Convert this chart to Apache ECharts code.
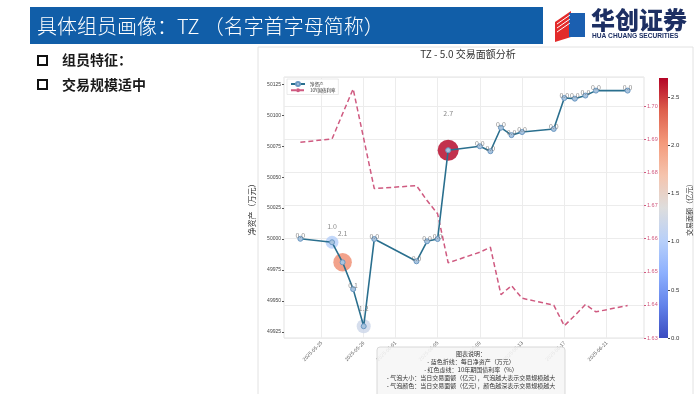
<!DOCTYPE html>
<html><head><meta charset="utf-8">
<script src="https://cdn.jsdelivr.net/npm/echarts@6/dist/echarts.min.js"></script>
<style>html,body{margin:0;padding:0;background:#fff}#c{width:700px;height:394px}</style>
</head><body><div id="c"></div>
<script>
// ---- data ----
const dates = ['2025-05-23','2025-05-26','2025-05-27','2025-05-28','2025-05-29','2025-05-30',
  '2025-06-03','2025-06-04','2025-06-05','2025-06-06','2025-06-09','2025-06-10','2025-06-11',
  '2025-06-12','2025-06-13','2025-06-16','2025-06-17','2025-06-18','2025-06-19','2025-06-20','2025-06-23'];
const netAsset = [50000.2, 49997.4, 49981.2, 49959.5, 49929.5, 50000.0,
  49982.0, 49998.2, 50000.0, 50071.8, 50075.0, 50071.0, 50090.0,
  50084.0, 50086.5, 50089.0, 50114.0, 50113.5, 50116.0, 50120.0, 50120.0];
const yield10Y = [1.6891, 1.6901, 1.6977, 1.7052, 1.6902, 1.6751,
  1.6760, 1.6715, 1.6675, 1.6527, 1.6559, 1.6574, 1.6431,
  1.6458, 1.6420, 1.6399, 1.6337, 1.6368, 1.6401, 1.6379, 1.6398];
const tradeAmount = [0.0, 1.0, 2.1, 0.1, 1.2, 0.0,
  0.0, 0.0, 0.0, 2.7, 0.0, 0.0, 0.0,
  0.0, 0.0, 0.0, 0.0, 0.0, 0.0, 0.0, 0.0];
const xTickDates = ['2025-05-25','2025-05-29','2025-06-01','2025-06-05','2025-06-09','2025-06-13','2025-06-17','2025-06-21'];
const leftTicks = [49925, 49950, 49975, 50000, 50025, 50050, 50075, 50100, 50125];
const seriesNames = ['净资产', '10Y国债利率'];
const noteLines = ['图表说明：',
  '- 蓝色折线：每日净资产（万元）',
  '- 红色虚线：10年期国债利率（%）',
  '- 气泡大小：当日交易面额（亿元），气泡越大表示交易规模越大',
  '- 气泡颜色：当日交易面额（亿元），颜色越深表示交易规模越大'];

// ---- helpers ----
const ts = s => { const [y, m, d] = s.split('-').map(Number); return Date.UTC(y, m - 1, d); };
const pad = n => String(n).padStart(2, '0');
const fmt = v => { const d = new Date(v); return d.getUTCFullYear() + '-' + pad(d.getUTCMonth() + 1) + '-' + pad(d.getUTCDate()); };
const xs = dates.map(ts);
const xTicks = xTickDates.map(ts);
const span = xs[xs.length - 1] - xs[0];
const coolwarm = ['#3b4cc0','#6282ea','#8db0fe','#b8d0f9','#dddddd','#f5c4ad','#f49a7b','#de604d','#b40426'];
const vmax = Math.max(...tradeAmount);
const FONT = '"Noto Sans CJK SC", "Noto Sans", sans-serif';

const bubbleData = xs.map((x, i) => [x, netAsset[i], tradeAmount[i]]);
const labelData = xs.map((x, i) => ({
  value: [x, netAsset[i], tradeAmount[i]],
  label: { offset: [0, -(3 + 12.5 * tradeAmount[i])] }
}));

const chart = echarts.init(document.getElementById('c'));
const graphics = [
  { type: 'rect', shape: { x: 30, y: 7, width: 513, height: 37 }, style: { fill: '#115ea8' } },
  { type: 'text', x: 37, y: 26, style: { text: '具体组员画像：TZ （名字首字母简称）', fill: '#fff', font: '300 20px ' + FONT, verticalAlign: 'middle' } },
  { type: 'polygon', shape: { points: [[555, 22], [571, 11], [571, 37], [555, 42]] }, style: { fill: '#e32b2b' } },
  { type: 'rect', shape: { x: 569, y: 13, width: 16, height: 24 }, style: { fill: '#1b5fb0' } },
  { type: 'polyline', shape: { points: [[557, 24], [570, 15]] }, style: { stroke: '#fff', lineWidth: 1 } },
  { type: 'polyline', shape: { points: [[557, 28], [570, 19]] }, style: { stroke: '#fff', lineWidth: 1 } },
  { type: 'polyline', shape: { points: [[557, 32], [570, 23]] }, style: { stroke: '#fff', lineWidth: 1 } },
  { type: 'text', x: 591, y: 20, style: { text: '华创证券', fill: '#1d2f63', font: '900 24px ' + FONT, verticalAlign: 'middle' } },
  { type: 'text', x: 592, y: 36, style: { text: 'HUA CHUANG SECURITIES', fill: '#1d2f63', font: 'bold 6.6px "Liberation Sans", sans-serif', verticalAlign: 'middle' } },
  { type: 'rect', shape: { x: 38, y: 56, width: 9, height: 9 }, style: { fill: 'none', stroke: '#111', lineWidth: 2 } },
  { type: 'text', x: 62, y: 60, style: { text: '组员特征：', fill: '#1a1a1a', font: 'bold 14px ' + FONT, verticalAlign: 'middle' } },
  { type: 'rect', shape: { x: 38, y: 80, width: 9, height: 9 }, style: { fill: 'none', stroke: '#111', lineWidth: 2 } },
  { type: 'text', x: 62, y: 85, style: { text: '交易规模适中', fill: '#1a1a1a', font: 'bold 14px ' + FONT, verticalAlign: 'middle' } },
  { type: 'rect', z: -10, shape: { x: 258, y: 47, width: 435, height: 350 }, style: { fill: '#fff', stroke: '#e2e2e2', lineWidth: 1 } },
  { type: 'text', x: 468, y: 54, style: { text: 'TZ - 5.0 交易面额分析', fill: '#333', font: '10px ' + FONT, align: 'center', verticalAlign: 'middle' } },
  { type: 'rect', z: 100, shape: { x: 377, y: 347, width: 188, height: 50, r: 3 }, style: { fill: 'rgba(246,246,246,0.88)', stroke: '#cfcfcf', lineWidth: 0.8 } }
];
noteLines.forEach((t, i) => graphics.push({
  type: 'text', z: 101, x: 471, y: 354 + i * 8,
  style: { text: t, fill: '#333', font: '6px ' + FONT, align: 'center', verticalAlign: 'middle' }
}));

chart.setOption({
  backgroundColor: '#fff',
  animation: false,
  graphic: graphics,
  legend: {
    data: seriesNames, orient: 'vertical', left: 287, top: 79,
    itemWidth: 14, itemHeight: 5, itemGap: 1, padding: [2, 3],
    borderColor: '#ddd', borderWidth: 0.6, backgroundColor: '#fff',
    textStyle: { fontSize: 4.5, color: '#333', fontFamily: FONT }
  },
  visualMap: {
    type: 'continuous', show: false, min: 0, max: vmax, dimension: 2, seriesIndex: 0,
    inRange: { color: coolwarm }
  },
  grid: [
    { left: 284, right: 56, top: 77, bottom: 56, show: true, borderColor: '#e3e3e3', borderWidth: 1, backgroundColor: '#fff' },
    { left: 659, width: 9, top: 78, bottom: 56 }
  ],
  xAxis: [
    {
      type: 'value', gridIndex: 0,
      min: xs[0] - 0.05 * span, max: xs[xs.length - 1] + 0.05 * span,
      axisLine: { show: false },
      axisTick: { show: false, customValues: xTicks },
      splitLine: { show: true, lineStyle: { color: '#ececec', width: 1 }, customValues: xTicks },
      axisLabel: { customValues: xTicks, formatter: v => fmt(v), rotate: 45, fontSize: 5, color: '#555', margin: 4, fontFamily: FONT }
    },
    { type: 'category', gridIndex: 1, data: ['c'], show: false }
  ],
  yAxis: [
    {
      type: 'value', gridIndex: 0, position: 'left', min: 49920, max: 50131,
      name: '净资产（万元）', nameLocation: 'middle', nameGap: 17,
      nameTextStyle: { fontSize: 8, color: '#333', fontFamily: FONT },
      axisLine: { show: false },
      axisTick: { show: true, length: 2, customValues: leftTicks, lineStyle: { color: '#555' } },
      axisLabel: { customValues: leftTicks, fontSize: 5, color: '#444', margin: 3, formatter: v => String(v) },
      splitLine: { show: false }
    },
    {
      type: 'value', gridIndex: 0, position: 'right', min: 1.63, max: 1.7088, interval: 0.01,
      axisLine: { show: false },
      axisTick: { show: true, length: 2, lineStyle: { color: '#d0587e' } },
      axisLabel: { showMaxLabel: false, fontSize: 5.5, color: '#d0587e', margin: 3, formatter: v => v.toFixed(2) },
      splitLine: { show: true, lineStyle: { color: '#ececec', width: 1 } }
    },
    {
      type: 'value', gridIndex: 1, position: 'right', min: 0, max: vmax, interval: 0.5,
      name: '交易面额（亿元）', nameLocation: 'middle', nameGap: 18, nameRotate: 90,
      nameTextStyle: { fontSize: 7, color: '#333', fontFamily: FONT },
      axisLine: { show: false },
      axisTick: { show: true, length: 2, lineStyle: { color: '#444' } },
      axisLabel: { showMaxLabel: false, fontSize: 6, color: '#333', margin: 3, formatter: v => v.toFixed(1) },
      splitLine: { show: false }
    }
  ],
  series: [
    {
      type: 'scatter', name: 'bubbles', xAxisIndex: 0, yAxisIndex: 0, z: 2,
      data: bubbleData,
      symbolSize: v => Math.max(12.8 * Math.sqrt(v[2]), 1),
      itemStyle: { opacity: 0.82 }
    },
    {
      type: 'line', name: seriesNames[1], xAxisIndex: 0, yAxisIndex: 1, z: 3,
      data: xs.map((x, i) => [x, yield10Y[i]]),
      showSymbol: false, symbol: 'none',
      lineStyle: { color: '#cf5a80', width: 1.5, type: [5, 3] },
      itemStyle: { color: '#cf5a80' }
    },
    {
      type: 'line', name: seriesNames[0], xAxisIndex: 0, yAxisIndex: 0, z: 4,
      data: xs.map((x, i) => [x, netAsset[i]]),
      symbol: 'circle', symbolSize: 5, showSymbol: true,
      lineStyle: { color: '#2a6f8e', width: 1.6 },
      itemStyle: { color: '#a9c4de', borderColor: '#6b98c2', borderWidth: 1 }
    },
    {
      type: 'scatter', name: 'labels', xAxisIndex: 0, yAxisIndex: 0, z: 6,
      data: labelData, symbolSize: 1, silent: true,
      itemStyle: { color: 'transparent' },
      label: { show: true, position: 'inside', formatter: p => p.value[2].toFixed(1), fontSize: 7, color: '#6d6d6d', fontFamily: FONT }
    },
    {
      type: 'bar', name: 'colorbar', xAxisIndex: 1, yAxisIndex: 2,
      data: [vmax], barWidth: '100%', silent: true,
      itemStyle: { color: { type: 'linear', x: 0, y: 1, x2: 0, y2: 0, colorStops: coolwarm.map((c, i) => ({ offset: i / (coolwarm.length - 1), color: c })) } }
    }
  ]
});
</script></body></html>
